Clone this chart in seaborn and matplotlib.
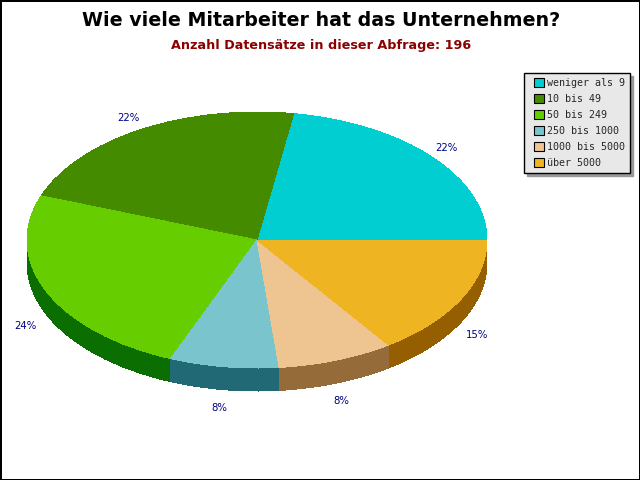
import matplotlib
matplotlib.use("Agg")
import matplotlib.pyplot as plt
import seaborn as sns

categories = ["weniger als 9", "10 bis 49", "50 bis 249", "250 bis 1000", "1000 bis 5000", "über 5000"]
counts = [44, 43, 48, 15, 16, 30]
pct_labels = ["22%", "22%", "24%", "8%", "8%", "15%"]
top_colors = ["#00CED1", "#458B00", "#66CD00", "#7AC5CD", "#EEC591", "#EEB422"]
# only the front slices show a side wall
wall_colors = ["none", "none", "#0A6E00", "#216A75", "#966B3A", "#955E00"]

sns.set_theme(style="white")
plt.rcParams["font.family"] = ["DejaVu Sans"]

# pie is drawn in a squashed axes so it comes out as an ellipse
rx, ry = 230, 128
cx, cy = 257, 240
depth = 23

fig = plt.figure(figsize=(6.4, 4.8), dpi=100, facecolor="white", edgecolor="black", linewidth=2)
ax = fig.add_axes([0, 0, 1, 1])

for px in range(depth, 0, -1):
    ax.pie(counts, colors=wall_colors, startangle=0, radius=1, center=(0, -px / ry),
           wedgeprops=dict(linewidth=0, antialiased=False))

wedges, texts = ax.pie(counts, colors=top_colors, startangle=0, radius=1,
                       labels=pct_labels, labeldistance=1.09,
                       wedgeprops=dict(linewidth=0, antialiased=False),
                       textprops=dict(color="#000080", fontsize=7.3))

for t in texts:
    x, y = t.get_position()
    t.set_ha("center")
    t.set_va("center")
    # labels sit 2 px left of the ellipse ray, front ones below the wall
    x -= 2 / rx
    if y < 0:
        y -= (depth + 7) / ry
    else:
        y += 2 / ry
    t.set_position((x, y))

ax.set_aspect("auto")
ax.set_xlim(-cx / rx, (640 - cx) / rx)
ax.set_ylim(-(480 - cy) / ry, cy / ry)
ax.axis("off")

fig.text(321 / 640, 1 - 20 / 480, "Wie viele Mitarbeiter hat das Unternehmen?", ha="center", va="center",
         fontsize=13.7, fontweight="bold", color="black")
fig.text(321 / 640, 1 - 45 / 480, "Anzahl Datensätze in dieser Abfrage: 196", ha="center", va="center",
         fontsize=9.2, fontweight="bold", color="#8B0000")

leg = fig.legend(wedges, categories, loc="upper left", bbox_to_anchor=(524 / 640, 1 - 73 / 480),
                 borderaxespad=0, frameon=True, fancybox=False, edgecolor="black", facecolor="#E8E8E8",
                 framealpha=1, shadow={"color": "#999999", "alpha": 1},
                 prop={"family": "DejaVu Sans Mono", "size": 7.2},
                 handlelength=1.5, handleheight=1, handletextpad=0.3, labelspacing=0.6,
                 borderpad=0.5)
leg.get_frame().set_linewidth(1)
for h in leg.legend_handles:
    # keep the swatch square, pushed to the right of its slot
    h.set_x(h.get_x() + 3.6)
    h.set_width(7.2)
    h.set_edgecolor("black")
    h.set_linewidth(0.8)

fig.savefig("out.png", dpi=100)
